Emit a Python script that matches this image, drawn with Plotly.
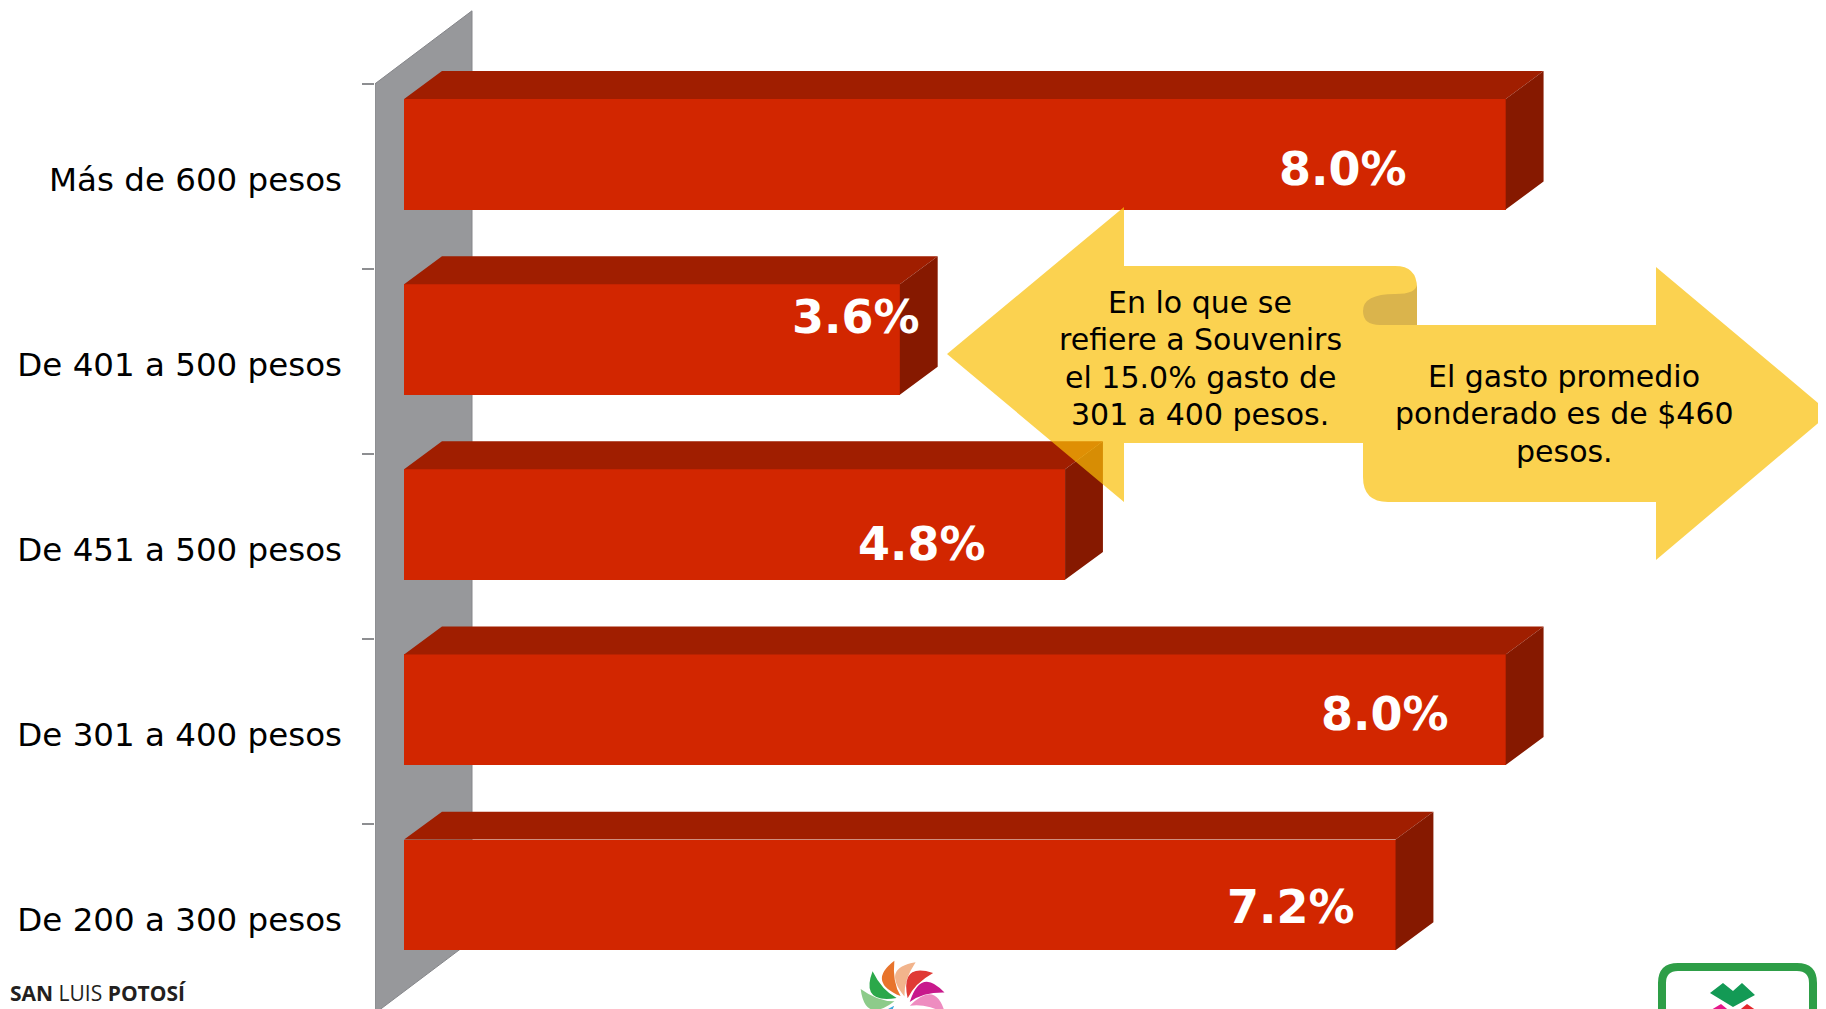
import math
import plotly.graph_objects as go

# ---------------- data ----------------
categories = ["Más de 600 pesos", "De 401 a 500 pesos", "De 451 a 500 pesos",
              "De 301 a 400 pesos", "De 200 a 300 pesos"]
values = [8.0, 3.6, 4.8, 8.0, 7.2]
value_labels = ["8.0%", "3.6%", "4.8%", "8.0%", "7.2%"]
positions = [4, 3, 2, 1, 0]

left_note = ["En lo que se", "refiere a Souvenirs", "el 15.0% gasto de", "301 a 400 pesos."]
right_note = ["El gasto promedio", "ponderado es de $460", "pesos."]
brand_text = "<b>SAN</b> LUIS <b>POTOSÍ</b>"

# label nudges (px) – style only
label_dx = [-163, -44, -143, -121, -105]
label_dy = [7, 45, 3, 18, 10]

# ---------------- geometry / style ----------------
OFF = 8                      # page body margin
W, H = 1826, 1009            # figure size
ML = 375 - OFF               # left margin (figure px)
X0PIX, PXU = 404.1, 137.7    # screen px of value 0, px per unit
XR = [(375 - X0PIX) / PXU, (W + OFF - X0PIX) / PXU]
TOPTICK, PYU = 83.8, 185.16  # screen px of top slot edge, px per slot
YR = [4.5 - (H + OFF - TOPTICK) / PYU, 4.5 + (TOPTICK - OFF) / PYU]

FRONT_OFF, FRONT_W = -0.179, 0.597
DX, DY = 0.275, 0.151

C_FRONT, C_TOP, C_SIDE = "#D22600", "#A01E00", "#861900"
C_WALL = "#97989B"


def px(x):
    """screen x -> paper x"""
    return (x - OFF - ML) / (W - ML)


def py(y):
    """screen y -> paper y"""
    return (H - (y - OFF)) / H


def ppath(cmds):
    out = []
    for c in cmds:
        op = c[0]
        if op == "Z":
            out.append("Z")
            continue
        pts = " ".join(f"{px(x):.5f},{py(y):.5f}" for x, y in c[1:])
        out.append(f"{op} {pts}")
    return " ".join(out)


fig = go.Figure()

# front faces of the bars
fig.add_trace(go.Bar(
    x=values, y=positions, orientation="h", base=0,
    width=FRONT_W, offset=FRONT_OFF,
    marker=dict(color=C_FRONT, line=dict(width=0)),
    hoverinfo="skip", showlegend=False))

# top and side faces built from the same data
top_x, top_y, side_x, side_y = [], [], [], []
for v, p in zip(values, positions):
    yt = p + FRONT_OFF + FRONT_W
    yb = p + FRONT_OFF
    top_x += [0, v, v + DX, DX, 0, None]
    top_y += [yt, yt, yt + DY, yt + DY, yt, None]
    side_x += [v, v, v + DX, v + DX, v, None]
    side_y += [yb, yt, yt + DY, yb + DY, yb, None]

fig.add_trace(go.Scatter(x=top_x, y=top_y, mode="lines", fill="toself",
                         fillcolor=C_TOP, line=dict(width=0, color=C_TOP),
                         hoverinfo="skip", showlegend=False))
fig.add_trace(go.Scatter(x=side_x, y=side_y, mode="lines", fill="toself",
                         fillcolor=C_SIDE, line=dict(width=0, color=C_SIDE),
                         hoverinfo="skip", showlegend=False))

shapes = []
# 3D side wall (behind bars)
wx0 = XR[0]
wx1 = (472 - X0PIX) / PXU
wdy = 73 / PYU
shapes.append(dict(
    type="path", xref="x", yref="y", layer="below",
    path=f"M {wx0},{4.5} L {wx1},{4.5 + wdy} L {wx1},{-0.52 + wdy} L {wx0},{-0.52} Z",
    fillcolor=C_WALL, line=dict(color="#85868a", width=1)))

# yellow ribbon arrows (screen px)
ribbon = [
    ("M", (947, 354)), ("L", (1124, 207)), ("L", (1124, 266)), ("L", (1395, 266)),
    ("Q", (1417, 266), (1417, 288)), ("L", (1417, 325)), ("L", (1656, 325)),
    ("L", (1656, 267)), ("L", (1830, 413)), ("L", (1656, 560)), ("L", (1656, 502)),
    ("L", (1388, 502)), ("Q", (1363, 502), (1363, 477)), ("L", (1363, 443)),
    ("L", (1124, 443)), ("L", (1124, 502)), ("Z",)]
shapes.append(dict(type="path", xref="paper", yref="paper", layer="above",
                   path=ppath(ribbon), fillcolor="rgba(250,191,5,0.7)",
                   line=dict(width=0)))
fold = [("M", (1417, 284)), ("Q", (1417, 294), (1395, 294)),
        ("Q", (1363, 294), (1363, 311)), ("Q", (1363, 325), (1380, 325)),
        ("L", (1417, 325)), ("Z",)]
shapes.append(dict(type="path", xref="paper", yref="paper", layer="above",
                   path=ppath(fold), fillcolor="#DAB44C", line=dict(width=0)))

# centre swirl logo (decorative)
cx, cy, R = 902, 1004, 44
blades = [(72, "#F2B48C"), (100, "#E8742C"), (45, "#E03A35"), (15, "#C8198C"),
          (-12, "#EE8CC0"), (132, "#2BA84A"), (160, "#8DCB8A"),
          (192, "#3AA7DC"), (218, "#8FCBEA"), (250, "#4B3A96")]
for ang, col in blades:
    a = math.radians(ang)
    r0 = 8
    sx, sy = cx + r0 * math.cos(a), cy - r0 * math.sin(a)
    tx, ty = cx + R * math.cos(a), cy - R * math.sin(a)
    a1 = math.radians(ang + 48)
    a2 = math.radians(ang + 14)
    c1 = (cx + 0.95 * R * math.cos(a1), cy - 0.95 * R * math.sin(a1))
    c2 = (cx + 0.55 * R * math.cos(a2), cy - 0.55 * R * math.sin(a2))
    shapes.append(dict(type="path", xref="paper", yref="paper", layer="above",
                       path=ppath([("M", (sx, sy)), ("Q", c1, (tx, ty)),
                                   ("Q", c2, (sx, sy)), ("Z",)]),
                       fillcolor=col, line=dict(width=0)))

# right logo (decorative)
logo_frame = [("M", (1662, 1060)), ("L", (1662, 983)), ("Q", (1662, 967), (1678, 967)),
              ("L", (1797, 967)), ("Q", (1813, 967), (1813, 983)), ("L", (1813, 1060))]
shapes.append(dict(type="path", xref="paper", yref="paper", layer="above",
                   path=ppath(logo_frame), line=dict(color="#2E9E47", width=8)))
shapes.append(dict(type="path", xref="paper", yref="paper", layer="above",
                   path=ppath([("M", (1733, 1007)), ("L", (1710, 993)), ("L", (1723, 983)),
                               ("L", (1733, 991)), ("L", (1742, 983)), ("L", (1755, 995)),
                               ("Z",)]),
                   fillcolor="#139A55", line=dict(width=0)))
shapes.append(dict(type="path", xref="paper", yref="paper", layer="above",
                   path=ppath([("M", (1721, 1004)), ("L", (1732, 1013)), ("L", (1721, 1022)),
                               ("L", (1706, 1013)), ("Z",)]),
                   fillcolor="#E5178A", line=dict(width=0)))
shapes.append(dict(type="path", xref="paper", yref="paper", layer="above",
                   path=ppath([("M", (1747, 1004)), ("L", (1760, 1013)), ("L", (1747, 1022)),
                               ("L", (1736, 1013)), ("Z",)]),
                   fillcolor="#E5262B", line=dict(width=0)))

annotations = []
for v, p, t, dx, dy in zip(values, positions, value_labels, label_dx, label_dy):
    annotations.append(dict(x=v, y=p, xref="x", yref="y", text=f"<b>{t}</b>",
                            showarrow=False, xshift=dx, yshift=dy,
                            xanchor="center", yanchor="middle",
                            font=dict(family="DejaVu Sans", size=46, color="white")))

LINE = 37.6
note_font = dict(family="DejaVu Sans", size=30, color="black")
for k, line in enumerate(left_note):
    annotations.append(dict(x=px(1200), y=py(302 + k * LINE), xref="paper", yref="paper",
                            text=line, showarrow=False, xanchor="center",
                            yanchor="middle", font=note_font))
for k, line in enumerate(right_note):
    annotations.append(dict(x=px(1564), y=py(376 + k * LINE), xref="paper", yref="paper",
                            text=line, showarrow=False, xanchor="center",
                            yanchor="middle", font=note_font))
annotations.append(dict(x=px(OFF), y=py(993), xref="paper", yref="paper",
                        text=brand_text, showarrow=False,
                        xanchor="left", yanchor="middle",
                        font=dict(family="Open Sans", size=21, color="#231F20")))

fig.update_layout(
    width=W, height=H,
    margin=dict(l=ML, r=0, t=0, b=0, pad=0),
    paper_bgcolor="white", plot_bgcolor="white",
    showlegend=False, bargap=0,
    xaxis=dict(range=XR, visible=False, fixedrange=True),
    yaxis=dict(range=YR, tickmode="array", tickvals=positions, ticktext=categories,
               ticks="", showgrid=False, zeroline=False, showline=False,
               automargin=False, ticklabelstandoff=32, ticklabelshift=3,
               tickfont=dict(family="DejaVu Sans", size=32.5, color="black"),
               minor=dict(tickmode="array", tickvals=[-0.5, 0.5, 1.5, 2.5, 3.5, 4.5],
                          ticks="outside", ticklen=12, tickwidth=2,
                          tickcolor="#8d8e91", showgrid=False),
               fixedrange=True),
    shapes=shapes,
    annotations=annotations,
)

fig.write_html("out.html")
